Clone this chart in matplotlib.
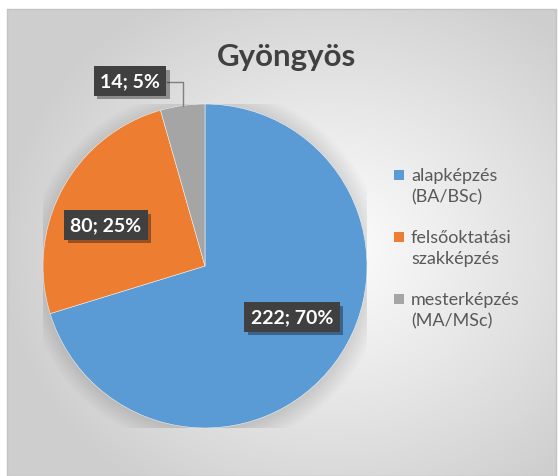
import matplotlib

matplotlib.use("Agg")
import matplotlib.pyplot as plt
import matplotlib.patheffects as path_effects
import numpy as np
from matplotlib.patches import Rectangle

plt.rcParams["font.family"] = ["Lato", "DejaVu Sans"]

TITLE = "Gyöngyös"
CATEGORIES = ["alapképzés\n(BA/BSc)", "felsőoktatási\nszakképzés", "mesterképzés\n(MA/MSc)"]
VALUES = [222, 80, 14]
PERCENT_LABELS = ["70%", "25%", "5%"]
COLORS = ["#5b9bd5", "#ed7d31", "#a5a5a5"]

W, H = 558, 477
fig = plt.figure(figsize=(W / 100, H / 100), dpi=100, facecolor="white")

# chart area with a soft radial gradient
left, top, right = 7, 10, 556
bg = fig.add_axes([left / W, 0, (right - left) / W, (H - top) / H], zorder=0)
yy, xx = np.mgrid[0:H - top, 0:right - left]
cx, cy = 330 - left, 250 - top
d = np.hypot((xx - cx) / 330, (yy - cy) / 290)
d = np.clip(d, 0, 1) ** 1.1
shade = 0.99 - 0.18 * d
bg.imshow(np.dstack([shade] * 3), aspect="auto", interpolation="bilinear")
bg.set_axis_off()
fig.patches.append(
    Rectangle((left / W, 0), (right - left) / W, (H - top) / H, transform=fig.transFigure,
              facecolor="none", edgecolor="#c3c3c3", linewidth=1.0, zorder=1)
)

# pie
pcx, pcy, rad = 205, 267, 162
ax = fig.add_axes([(pcx - rad) / W, (H - pcy - rad) / H, 2 * rad / W, 2 * rad / H], zorder=2)
ax.set_facecolor("none")

# faint shadow under the pie
for k in range(10):
    ax.add_patch(plt.Circle((0.01, -0.015), 1.0 + 0.012 * k, color="black", alpha=0.012, zorder=0,
                            linewidth=0))

wedges, _ = ax.pie(VALUES, colors=COLORS, startangle=90, counterclock=False,
                   wedgeprops=dict(linewidth=0.4, edgecolor="#f0f0f0"), radius=1.0)
for w in wedges:
    w.set_zorder(2)
ax.set_xlim(-1, 1)
ax.set_ylim(-1, 1)
ax.set_axis_off()

label_pos = [(0.537, -0.315), (-0.611, 0.253), (-0.463, 1.142)]
box_style = dict(boxstyle="square,pad=0.33", facecolor="#404040", edgecolor="none")
for i, (val, pct) in enumerate(zip(VALUES, PERCENT_LABELS)):
    t = ax.text(label_pos[i][0], label_pos[i][1], f"{val}; {pct}", color="white", fontsize=14,
                fontweight="bold", ha="center", va="center", bbox=box_style, zorder=5,
                clip_on=False)
    t.get_bbox_patch().set_path_effects(
        [path_effects.SimplePatchShadow(offset=(2.5, -2.5), alpha=0.35, shadow_rgbFace="black"),
         path_effects.Normal()]
    )

# leader line for the small slice
w = wedges[2]
mid = np.deg2rad((w.theta1 + w.theta2) / 2)
ex, ey = np.cos(mid), np.sin(mid)
ax.plot([-0.235, ex, ex], [1.136, 1.136, ey], color="#7f7f7f", linewidth=1.0, zorder=4,
        clip_on=False)

fig.text(286 / W, 1 - 57 / H, TITLE, fontsize=22.5, fontweight="bold", color="#404040",
         ha="center", va="center")

# legend
entry_y = [176, 238, 300]
for color, label, y in zip(COLORS, CATEGORIES, entry_y):
    fig.patches.append(Rectangle((394 / W, 1 - (y + 5) / H), 10 / W, 10 / H,
                                 transform=fig.transFigure, facecolor=color, edgecolor="none",
                                 zorder=3))
    first, second = label.split("\n")
    fig.text(411 / W, 1 - y / H, first, fontsize=13, color="#595959", ha="left", va="center")
    fig.text(411 / W, 1 - (y + 21) / H, second, fontsize=13, color="#595959", ha="left",
             va="center")

fig.savefig("out.png", dpi=100, facecolor="white")
